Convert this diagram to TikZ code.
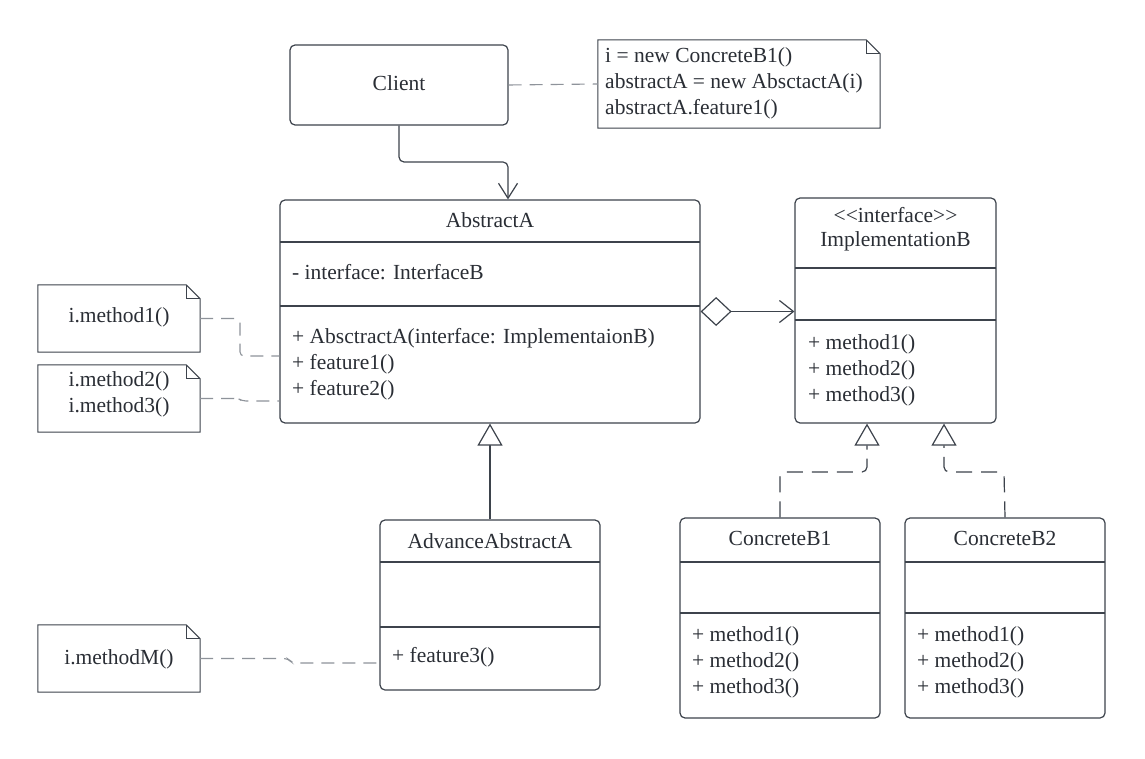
\documentclass[tikz,border=0pt]{standalone}
\usepackage{fontspec}
\setmainfont{Liberation Serif}
\usetikzlibrary{arrows.meta}
\definecolor{ln}{HTML}{3D434C}
\definecolor{tx}{HTML}{2A2E35}
\definecolor{dl}{HTML}{8E939A}
\newcommand\noteborder[2]{%
  \draw[ln, line width=1pt] (#1.north west) -- ([xshift=-#2]#1.north east) -- ([yshift=-#2]#1.north east) -- (#1.south east) -- (#1.south west) -- cycle;
  \draw[ln, line width=1pt] ([xshift=-#2]#1.north east) -- ([xshift=-#2,yshift=-#2]#1.north east) -- ([yshift=-#2]#1.north east);}
\begin{document}
\begin{tikzpicture}[x=1pt,y=-1pt,
  box/.style={draw=ln, line width=1.2pt, rounded corners=5pt, inner sep=0pt},
  notebox/.style={inner sep=0pt},
  lbl/.style={text=tx, font=\fontsize{21.5}{24}\selectfont, inner sep=0pt},
  sep/.style={draw=ln, line width=1.1pt},
  conn/.style={draw=ln, line width=1.2pt, rounded corners=5pt},
  noteln/.style={draw=dl, line width=1.1pt, dash pattern=on 13pt off 8pt, rounded corners=4pt},
  realiz/.style={draw=ln, line width=1.2pt, dash pattern=on 16pt off 9pt, rounded corners=5pt},
  openarrow/.style={-{Straight Barb[length=15pt,width=19pt,line width=1.2pt]}},
  triarrow/.style={-{Triangle[open,length=22pt,width=25pt,fill=white,line width=1.2pt]}}
]
\useasboundingbox[fill=white] (0,0) rectangle (1145,759);

% Client
\node[box, minimum width=218pt, minimum height=80pt] (client) at (399,85) {};
\node[lbl] (clientname) at (399,83) {Client};

% top note
\node[notebox, minimum width=282pt, minimum height=88pt] (n0) at (739,84) {};
\noteborder{n0}{14pt}
\node[lbl, anchor=west] (n0a) at (605,57) {i = new ConcreteB1()};
\node[lbl, anchor=west] (n0b) at (605,83) {abstractA = new AbsctactA(i)};
\node[lbl, anchor=west] (n0c) at (605,109) {abstractA.feature1()};

% AbstractA
\node[box, minimum width=420pt, minimum height=223pt] (absA) at (490,311.5) {};
\draw[sep] (280,242) -- (700,242);
\draw[sep] (280,306) -- (700,306);
\node[lbl] (absAname) at (490,220) {AbstractA};
\node[lbl, anchor=west] (absAattr) at (292,272) {- interface: InterfaceB};
\node[lbl, anchor=west] (absAm1) at (292,338) {+ AbsctractA(interface: ImplementaionB)};
\node[lbl, anchor=west] (absAm2) at (292,364) {+ feature1()};
\node[lbl, anchor=west] (absAm3) at (292,390) {+ feature2()};

% ImplementationB
\node[box, minimum width=201pt, minimum height=225pt] (implB) at (895.5,310.5) {};
\draw[sep] (795,268) -- (996,268);
\draw[sep] (795,320) -- (996,320);
\node[lbl] (implBst) at (895.5,215) {<{}<interface>{}>};
\node[lbl] (implBname) at (895.5,241) {ImplementationB};
\node[lbl, anchor=west] (implBm1) at (808,344) {+ method1()};
\node[lbl, anchor=west] (implBm2) at (808,370) {+ method2()};
\node[lbl, anchor=west] (implBm3) at (808,396) {+ method3()};

% AdvanceAbstractA
\node[box, minimum width=220pt, minimum height=170pt] (adv) at (490,605) {};
\draw[sep] (380,562) -- (600,562);
\draw[sep] (380,627) -- (600,627);
\node[lbl] (advname) at (490,541) {AdvanceAbstractA};
\node[lbl, anchor=west] (advm1) at (392,657) {+ feature3()};

% ConcreteB1
\node[box, minimum width=200pt, minimum height=200pt] (cb1) at (780,618) {};
\draw[sep] (680,562) -- (880,562);
\draw[sep] (680,613) -- (880,613);
\node[lbl] (cb1name) at (780,538) {ConcreteB1};
\node[lbl, anchor=west] (cb1m1) at (692,636) {+ method1()};
\node[lbl, anchor=west] (cb1m2) at (692,662) {+ method2()};
\node[lbl, anchor=west] (cb1m3) at (692,688) {+ method3()};

% ConcreteB2
\node[box, minimum width=200pt, minimum height=200pt] (cb2) at (1005,618) {};
\draw[sep] (905,562) -- (1105,562);
\draw[sep] (905,613) -- (1105,613);
\node[lbl] (cb2name) at (1005,538) {ConcreteB2};
\node[lbl, anchor=west] (cb2m1) at (917,636) {+ method1()};
\node[lbl, anchor=west] (cb2m2) at (917,662) {+ method2()};
\node[lbl, anchor=west] (cb2m3) at (917,688) {+ method3()};

% left notes
\node[notebox, minimum width=162pt, minimum height=67pt] (n1) at (119,318.5) {};
\noteborder{n1}{14pt}
\node[lbl] (n1t) at (119,317) {i.method1()};

\node[notebox, minimum width=162pt, minimum height=67pt] (n2) at (119,398.5) {};
\noteborder{n2}{14pt}
\node[lbl] (n2a) at (119,381) {i.method2()};
\node[lbl] (n2b) at (119,407) {i.method3()};

\node[notebox, minimum width=162pt, minimum height=67pt] (n3) at (119,658.5) {};
\noteborder{n3}{14pt}
\node[lbl] (n3t) at (119,659) {i.methodM()};

% connectors
\draw[conn, openarrow] (client.south) -- (399,162) -- (508,162) -- ([xshift=18pt]absA.north);
\draw[noteln] (client.east) -- (n0.west);
\draw[draw=ln, line width=1.2pt, {Diamond[open,length=31pt,width=29pt,fill=white,line width=1.2pt]}-{Straight Barb[length=14pt,width=22pt,line width=1.2pt]}] (absA.east) -- (absA.east -| implB.west);
\draw[conn, triarrow] (adv.north) -- (adv.north |- absA.south);
\draw[realiz, triarrow] (cb1.north) -- (780,472) -- (867,472) -- ([xshift=-28.5pt]implB.south);
\draw[realiz, triarrow] (cb2.north) -- (1004,472) -- (944,472) -- ([xshift=48.5pt]implB.south);
\draw[noteln] (n1.east) -- (240,318.5) -- (240,356) -- ([yshift=-44.5pt]absA.west);
\draw[noteln] (n2.east) -- (238,398.5) -- (242,401) -- ([yshift=-89.5pt]absA.west);
\draw[noteln] (n3.east) -- (288,658.5) -- (292,663) -- ([yshift=-58pt]adv.west);
\end{tikzpicture}
\end{document}
